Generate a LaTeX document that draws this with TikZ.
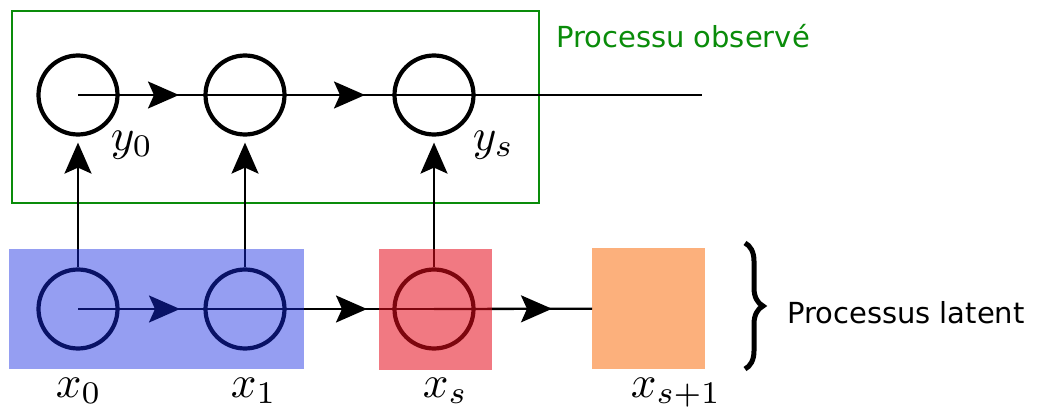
\documentclass[tikz,border=0pt]{standalone}
\usepackage{fontspec}
\newfontfamily\dejavu{DejaVu Sans}
\usetikzlibrary{arrows.meta,decorations.markings,decorations.pathreplacing}
\definecolor{obsgreen}{RGB}{10,140,10}
\definecolor{blueov}{RGB}{20,40,227}
\definecolor{redov}{RGB}{229,11,27}
\definecolor{orangefill}{RGB}{252,176,124}
\tikzset{
  circ/.style={circle, draw=black, line width=4.2pt, minimum size=79pt, inner sep=0pt},
  conn/.style={line width=2.3pt},
  tipstyle/.tip={Stealth[length=31pt,width=27pt,inset=6pt]},
  midarrow/.style={postaction={decorate}, decoration={markings, mark=at position #1 with {\arrow{tipstyle}}}},
  uparrow/.style={line width=2.3pt, -{tipstyle}, shorten >=6pt},
  mathlbl/.style={anchor=base west, inner sep=0pt, font=\fontsize{10}{12}\selectfont, scale=4.5},
  txtlbl/.style={anchor=base west, inner sep=0pt, font=\dejavu\fontsize{29}{34}\selectfont},
  overlay box/.style={anchor=north west, inner sep=0pt, draw=none}
}
\begin{document}
\begin{tikzpicture}[x=1pt,y=-1pt]
\useasboundingbox (0,0) rectangle (1039,409);
% observed process box
\node[overlay box, draw=obsgreen, line width=2pt, minimum width=527pt, minimum height=192pt] (obsbox) at (11,10) {};
\node[txtlbl, text=obsgreen] (obslbl) at (556,48) {Processu observé};
% circles
\node[circ] (y0) at (78,95) {};
\node[circ] (y1) at (245,95) {};
\node[circ] (ys) at (434,95) {};
\node[circ] (x0) at (78,309) {};
\node[circ] (x1) at (245,309) {};
\node[circ] (xs) at (434,309) {};
\coordinate (yend) at (702,95);
% orange box
\node[overlay box, fill=orangefill, minimum width=113pt, minimum height=121pt] (xs1) at (592,248) {};
% horizontal chains
\draw[conn, midarrow=101pt] (y0.center) -- (y1.center);
\draw[conn, midarrow=120pt] (y1.center) -- (ys.center);
\draw[conn] (ys.center) -- (yend);
\draw[conn, midarrow=102pt] (x0.center) -- (x1.center);
\draw[conn, midarrow=122pt] (x1.center) -- (xs.center);
\draw[conn, midarrow=118pt] (xs.center) -- (xs1.west);
% vertical arrows
\draw[uparrow] (x0.north) -- (y0.south);
\draw[uparrow] (x1.north) -- (y1.south);
\draw[uparrow] (xs.north) -- (ys.south);
% translucent overlays
\node[overlay box, fill=blueov, fill opacity=0.45, minimum width=295pt, minimum height=120pt] (bluebox) at (9,249) {};
\node[overlay box, fill=redov, fill opacity=0.55, minimum width=113pt, minimum height=121pt] (redbox) at (379,249) {};
% labels
\node[mathlbl] (ly0) at (110,150) {$y_0$};
\node[mathlbl] (lys) at (472,150) {$y_s$};
\node[mathlbl] (lx0) at (55,397) {$x_0$};
\node[mathlbl] (lx1) at (230,397) {$x_1$};
\node[mathlbl] (lxs) at (422,397) {$x_s$};
\node[mathlbl] (lxs1) at (630,397) {$x_{s+1}$};
% brace
\coordinate (btop) at (745,243);
\coordinate (bbot) at (745,369);
\draw[line width=5pt, decorate, decoration={brace, amplitude=18pt}] (btop) -- (bbot);
\node[txtlbl] (latlbl) at (787,323) {Processus latent};
\end{tikzpicture}
\end{document}
